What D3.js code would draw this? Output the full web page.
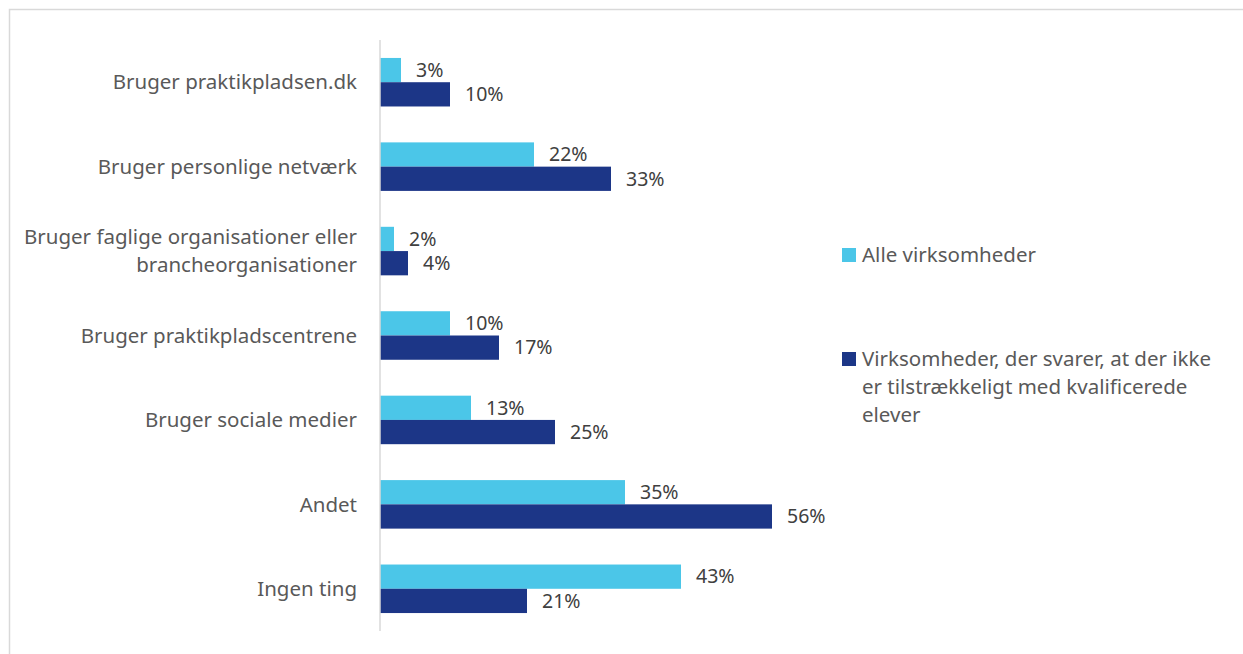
<!DOCTYPE html>
<html>
<head>
<meta charset="utf-8">
<script src="https://cdn.jsdelivr.net/npm/d3@7"></script>
<style>
    body { margin: 0; background: #fff; }
    #visual { width: 1243px; height: 654px; }
    text { font-family: "Noto Sans", "Open Sans", sans-serif; }
</style>
</head>
<body>
<div id="visual"></div>
<script>
var categories = [
    ['Bruger praktikpladsen.dk'],
    ['Bruger personlige netværk'],
    ['Bruger faglige organisationer eller', 'brancheorganisationer'],
    ['Bruger praktikpladscentrene'],
    ['Bruger sociale medier'],
    ['Andet'],
    ['Ingen ting']
];
var seriesNames = ['Alle virksomheder', 'Virksomheder, der svarer, at der ikke er tilstrækkeligt med kvalificerede elever'];
var legendLines = [
    ['Alle virksomheder'],
    ['Virksomheder, der svarer, at der ikke', 'er tilstrækkeligt med kvalificerede', 'elever']
];
var alleValues = [3, 22, 2, 10, 13, 35, 43];
var virkValues = [10, 33, 4, 17, 25, 56, 21];
var colours = ['#4bc6e8', '#1c3687'];

var width = 1243, height = 654;

var svg = d3.select('#visual')
    .append('svg')
    .attr('width', width)
    .attr('height', height);

// border (only top/left visible in the frame)
svg.append('rect')
    .attr('x', 9.5).attr('y', 9.5)
    .attr('width', 1400).attr('height', 800)
    .attr('fill', 'none')
    .attr('stroke', '#d9d9d9')
    .attr('stroke-width', 1.5);

var keys = categories.map(function (d, i) { return i; });

var y_scale = d3.scaleBand()
    .domain(keys)
    .range([40, 631]);

var y_inner = d3.scaleBand()
    .domain([0, 1])
    .range([0, y_scale.bandwidth()])
    .paddingOuter(0.74);

var x_scale = d3.scaleLinear()
    .domain([0, 60])
    .range([380, 800]);

var rows = keys.map(function (i) {
    return { idx: i, values: [alleValues[i], virkValues[i]] };
});

var groups = svg.selectAll('.grp')
    .data(rows)
    .enter().append('g')
    .attr('class', 'grp')
    .attr('transform', function (d) { return 'translate(0,' + y_scale(d.idx) + ')'; });

groups.selectAll('rect')
    .data(function (d) { return d.values; })
    .enter().append('rect')
    .attr('x', x_scale(0))
    .attr('y', function (d, i) { return y_inner(i); })
    .attr('width', function (d) { return x_scale(d) - x_scale(0); })
    .attr('height', y_inner.bandwidth())
    .attr('fill', function (d, i) { return colours[i]; });

groups.selectAll('.val')
    .data(function (d) { return d.values; })
    .enter().append('text')
    .attr('class', 'val')
    .attr('x', function (d) { return x_scale(d) + 15; })
    .attr('y', function (d, i) { return y_inner(i) + y_inner.bandwidth() / 2; })
    .attr('dy', '0.35em')
    .attr('font-size', '19.5px')
    .attr('fill', '#404040')
    .text(function (d) { return d + '%'; });

// category labels
var lab = svg.selectAll('.cat')
    .data(categories)
    .enter().append('text')
    .attr('class', 'cat')
    .attr('text-anchor', 'end')
    .attr('font-size', '20.5px')
    .attr('fill', '#595959')
    .attr('transform', function (d, i) {
        var c = y_scale(i) + y_scale.bandwidth() / 2;
        return 'translate(357,' + (c - (d.length - 1) * 14) + ')';
    });

lab.selectAll('tspan')
    .data(function (d) { return d; })
    .enter().append('tspan')
    .attr('x', 0)
    .attr('y', function (d, i) { return i * 28; })
    .attr('dy', '0.35em')
    .text(function (d) { return d; });

// vertical axis line
svg.append('line')
    .attr('x1', x_scale(0)).attr('x2', x_scale(0))
    .attr('y1', 40).attr('y2', 631)
    .attr('stroke', '#d9d9d9')
    .attr('stroke-width', 1.5);

// legend
var legendY = [248, 352];
var legend = svg.selectAll('.legend')
    .data(seriesNames)
    .enter().append('g')
    .attr('class', 'legend')
    .attr('transform', function (d, i) { return 'translate(842,' + legendY[i] + ')'; });

legend.append('rect')
    .attr('width', 14).attr('height', 14)
    .attr('fill', function (d, i) { return colours[i]; });

legend.append('text')
    .attr('font-size', '20.5px')
    .attr('fill', '#595959')
    .selectAll('tspan')
    .data(function (d, i) { return legendLines[i]; })
    .enter().append('tspan')
    .attr('x', 20)
    .attr('y', function (d, i) { return 14 + i * 28; })
    .text(function (d) { return d; });
</script>
</body>
</html>
